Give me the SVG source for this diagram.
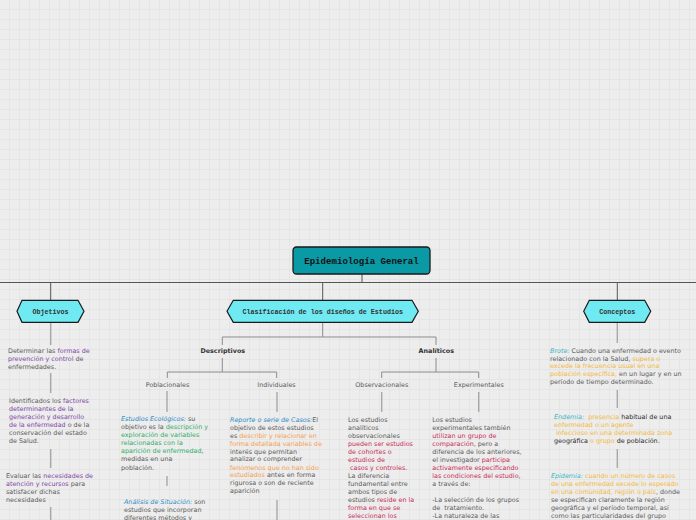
<svg xmlns="http://www.w3.org/2000/svg" width="696" height="520" viewBox="0 0 696 520">
<style>
.t{font-family:"DejaVu Sans",Verdana,sans-serif;font-size:6.4px;fill:#5b5b5b}
.b{font-weight:bold;fill:#333}
.pu{fill:#8247a8}.gr{fill:#2fae6b}.bl{fill:#2f8dc8;font-style:italic}.or{fill:#f5a050}
.rd{fill:#cc2b57}.ye{fill:#f4b93b}.te{fill:#3ab5c2;font-style:italic}.dk{fill:#2b2b2b}
.mid{text-anchor:middle}
.hex{fill:#6fe9f2;stroke:#1a1a1a;stroke-width:1.2}
.hl{font-family:"Liberation Mono","Courier New",monospace;font-size:6.7px;font-weight:bold;fill:#333;text-anchor:middle}
.main{stroke:#555;stroke-width:1;fill:none}
.sub{stroke:#8a8a8a;stroke-width:1;fill:none}
.lnk{stroke:#a8a8a8;stroke-width:1.4;fill:none}
</style>
<defs>
<pattern id="grid" width="10" height="10" patternUnits="userSpaceOnUse">
<rect width="10" height="10" fill="#ededed"/>
<path d="M9.5 0V10M0 9.5H10" stroke="#e5e5e5" stroke-width="1"/>
</pattern>
</defs>
<rect width="696" height="520" fill="url(#grid)"/>

<g id="connectors">
<path class="main" d="M0 282.5H696M362 274V282.5M50.7 282.5V300M322.7 282.5V300M617.3 282.5V300"/>
<path class="sub" d="M322.7 322V337H222.3V345M322.7 337H436V345"/>
<path class="sub" d="M222.3 358V372H167.3V378M222.3 372H276.7V378"/>
<path class="sub" d="M436 358V372H381.7V378M436 372H478.7V378"/>
<path class="lnk" d="M50.7 322V345M50.7 373V393M50.7 449V468M50.7 507V520"/>
<path class="lnk" d="M167 391V412M167 476V486"/>
<path class="lnk" d="M277 392V412M277 500V520"/>
<path class="lnk" d="M381.7 392V412"/>
<path class="lnk" d="M478.7 392V412"/>
<path class="lnk" d="M617.3 322V343M617.3 390V408M617.3 449V468"/>
</g>

<g id="root">
<rect x="293" y="247" width="137" height="27" rx="3.5" fill="#099aa5" stroke="#1a1a1a" stroke-width="1.3"/>
<text x="361.5" y="263.5" text-anchor="middle" font-family="'Liberation Mono','Courier New',monospace" font-size="9.1" font-weight="bold" fill="#111">Epidemiología General</text>
</g>

<g id="objetivos">
<polygon class="hex" points="17,311.3 22,300.3 78,300.3 84,311.3 78,322.3 22,322.3"/>
<text class="hl" x="50.5" y="313.5">Objetivos</text>
</g>
<g id="clasificacion">
<polygon class="hex" points="227,311.3 233.3,300.3 412,300.3 418.3,311.3 412,322.3 233.3,322.3"/>
<text class="hl" x="322.7" y="313.5">Clasificación de los diseños de Estudios</text>
</g>
<g id="conceptos">
<polygon class="hex" points="583.7,311.3 589.3,300.3 644.7,300.3 650.7,311.3 644.7,322.3 589.3,322.3"/>
<text class="hl" x="617.3" y="313.5">Conceptos</text>
</g>

<g id="obj1">
<text class="t" x="8" y="352.7">Determinar las <tspan class="pu">formas de</tspan></text>
<text class="t" x="8" y="360.5"><tspan class="pu">prevención y control</tspan> de</text>
<text class="t" x="8" y="368.7">enfermedades.</text>
</g>
<g id="obj2">
<text class="t" x="9" y="403">Identificados los <tspan class="pu">factores</tspan></text>
<text class="t" x="9" y="411"><tspan class="pu">determinantes de la</tspan></text>
<text class="t" x="9" y="419"><tspan class="pu">generación y desarrollo</tspan></text>
<text class="t" x="9" y="427"><tspan class="pu">de la enfermedad</tspan> o de la</text>
<text class="t" x="9" y="435">conservación del estado</text>
<text class="t" x="9" y="443">de Salud.</text>
</g>
<g id="obj3">
<text class="t" x="6" y="478">Evaluar las <tspan class="pu">necesidades de</tspan></text>
<text class="t" x="6" y="486"><tspan class="pu">atención y recursos</tspan> para</text>
<text class="t" x="6" y="494">satisfacer dichas</text>
<text class="t" x="6" y="502">necesidades</text>
</g>

<g id="descriptivos"><text class="t b mid" x="222.8" y="353">Descriptivos</text></g>
<g id="analiticos"><text class="t b mid" x="436.3" y="353">Analíticos</text></g>
<g id="poblacionales"><text class="t mid" x="167.5" y="386.5">Poblacionales</text></g>
<g id="individuales"><text class="t mid" x="276.5" y="386.5">Individuales</text></g>
<g id="observacionales"><text class="t mid" x="381.8" y="386.5">Observacionales</text></g>
<g id="experimentales"><text class="t mid" x="478.8" y="386.5">Experimentales</text></g>

<g id="ecologicos">
<text class="t" x="121" y="421.3"><tspan class="bl">Estudios Ecológicos:</tspan> su</text>
<text class="t" x="121" y="429.3">objetivo es la <tspan class="gr">descripción y</tspan></text>
<text class="t" x="121" y="437"><tspan class="gr">exploración de variables</tspan></text>
<text class="t" x="121" y="445"><tspan class="gr">relacionadas con la</tspan></text>
<text class="t" x="121" y="453.3"><tspan class="gr">aparición de enfermedad</tspan>,</text>
<text class="t" x="121" y="461.3">medidas en una</text>
<text class="t" x="121" y="469.7">población.</text>
</g>
<g id="situacion">
<text class="t" x="124" y="503.7"><tspan class="bl">Análisis de Situación:</tspan> son</text>
<text class="t" x="124" y="511.7">estudios que incorporan</text>
<text class="t" x="124" y="519.7">diferentes métodos y</text>
</g>
<g id="casos">
<text class="t" x="230" y="422"><tspan class="bl">Reporte o serie de Casos:</tspan>El</text>
<text class="t" x="230" y="430">objetivo de estos estudios</text>
<text class="t" x="230" y="437.7">es <tspan class="or">describir y relacionar en</tspan></text>
<text class="t" x="230" y="445.7"><tspan class="or">forma detallada variables de</tspan></text>
<text class="t" x="230" y="453.7">interés que permitan</text>
<text class="t" x="230" y="461.3">analizar o comprender</text>
<text class="t" x="230" y="469.7"><tspan class="or">fenómenos que no han sido</tspan></text>
<text class="t" x="230" y="477.3"><tspan class="or">estudiados</tspan> antes en forma</text>
<text class="t" x="230" y="485.3">rigurosa o son de reciente</text>
<text class="t" x="230" y="493.3">aparición</text>
</g>
<g id="obs-text">
<text class="t" x="348" y="422">Los estudios</text>
<text class="t" x="348" y="429.7">analíticos</text>
<text class="t" x="348" y="437.7">observacionales</text>
<text class="t" x="348" y="445.7"><tspan class="rd">pueden ser estudios</tspan></text>
<text class="t" x="348" y="453.7"><tspan class="rd">de cohortes o</tspan></text>
<text class="t" x="348" y="461.7"><tspan class="rd">estudios de</tspan></text>
<text class="t" x="348" y="470" xml:space="preserve"><tspan class="rd"> casos y controles</tspan>.</text>
<text class="t" x="348" y="478">La diferencia</text>
<text class="t" x="348" y="485.7">fundamental entre</text>
<text class="t" x="348" y="494">ambos tipos de</text>
<text class="t" x="348" y="501.7">estudios <tspan class="rd">reside en la</tspan></text>
<text class="t" x="348" y="509.7"><tspan class="rd">forma en que se</tspan></text>
<text class="t" x="348" y="517.7"><tspan class="rd">seleccionan los</tspan></text>
</g>
<g id="exp-text">
<text class="t" x="432.3" y="422">Los estudios</text>
<text class="t" x="432.3" y="429.7">experimentales también</text>
<text class="t" x="432.3" y="437.7"><tspan class="rd">utilizan un grupo de</tspan></text>
<text class="t" x="432.3" y="445.7"><tspan class="rd">comparación</tspan>, pero a</text>
<text class="t" x="432.3" y="453.7">diferencia de los anteriores,</text>
<text class="t" x="432.3" y="461.7">el investigador <tspan class="rd">participa</tspan></text>
<text class="t" x="432.3" y="470"><tspan class="rd">activamente especificando</tspan></text>
<text class="t" x="432.3" y="477.7"><tspan class="rd">las condiciones del estudio</tspan>,</text>
<text class="t" x="432.3" y="485.7">a través de:</text>
<text class="t" x="432.3" y="501.7">-La selección de los grupos</text>
<text class="t" x="432.3" y="509.7" xml:space="preserve">de  tratamiento.</text>
<text class="t" x="432.3" y="517.7">-La naturaleza de las</text>
</g>

<g id="brote">
<text class="t" x="550" y="352.7"><tspan class="te">Brote:</tspan> Cuando una enfermedad o evento</text>
<text class="t" x="550" y="360.7">relacionado con la Salud, <tspan class="ye">supera o</tspan></text>
<text class="t" x="550" y="368.3"><tspan class="ye">excede la frecuencia usual en una</tspan></text>
<text class="t" x="550" y="376.3"><tspan class="ye">población específica,</tspan> en un lugar y en un</text>
<text class="t" x="550" y="384.3">período de tiempo determinado.</text>
</g>
<g id="endemia">
<text class="t" x="554" y="418.7" xml:space="preserve"><tspan class="te">Endemia:</tspan>  <tspan class="ye">presencia</tspan><tspan class="dk"> habitual de una</tspan></text>
<text class="t" x="554" y="426.7"><tspan class="ye">enfermedad o un agente</tspan></text>
<text class="t" x="554" y="435" xml:space="preserve"><tspan class="ye"> infeccioso en una determinada zona</tspan></text>
<text class="t" x="554" y="443"><tspan class="dk">geográfica </tspan><tspan class="ye">o grupo</tspan><tspan class="dk"> de población.</tspan></text>
</g>
<g id="epidemia">
<text class="t" x="551" y="477.7"><tspan class="te">Epidemia:</tspan><tspan class="ye"> cuando un número de casos</tspan></text>
<text class="t" x="551" y="485.7"><tspan class="ye">de una enfermedad excede lo esperado</tspan></text>
<text class="t" x="551" y="493.7"><tspan class="ye">en una comunidad, región o país</tspan>, donde</text>
<text class="t" x="551" y="501.7">se especifican claramente la región</text>
<text class="t" x="551" y="509.7">geográfica y el período temporal, así</text>
<text class="t" x="551" y="517.7">como las particularidades del grupo</text>
</g>
</svg>
